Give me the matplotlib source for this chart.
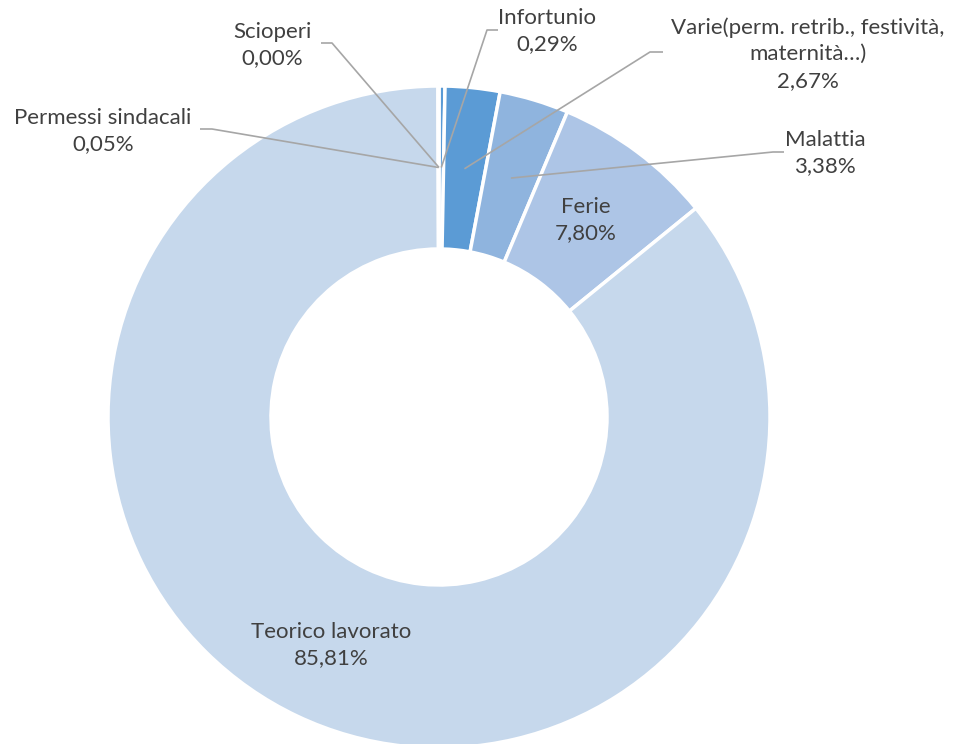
import numpy as np
import matplotlib
matplotlib.use('Agg')
import matplotlib.pyplot as plt

# Dati
categorie = ['Scioperi', 'Infortunio',
             'Varie(perm. retrib., festività,\nmaternità…)',
             'Malattia', 'Ferie', 'Teorico lavorato', 'Permessi sindacali']
valori = [0.00, 0.29, 2.67, 3.38, 7.80, 85.81, 0.05]
colori = ['#5B9BD5', '#5B9BD5', '#5B9BD5', '#8FB4DE', '#ADC5E6', '#C6D8EC', '#C6D8EC']

W, H = 957, 744
fig = plt.figure(figsize=(W / 100, H / 100), dpi=100)
ax = fig.add_axes([0, 0, 1, 1])
ax.set_aspect('equal')

def px(x, y):
    # coordinate in pixel (origine in alto a sinistra) -> coordinate dati
    return x, H - y

cx, cy = px(439, 417)
R, r_in = 331, 168

wedges, _ = ax.pie(valori, colors=colori, startangle=90, counterclock=False,
                   center=(cx, cy), radius=R, frame=True,
                   wedgeprops=dict(width=R - r_in, edgecolor='white', linewidth=2.5))
ax.set_xlim(0, W)
ax.set_ylim(0, H)
ax.axis('off')

etichette = [f"{c}\n{f'{v:.2f}'.replace('.', ',')}%" for c, v in zip(categorie, valori)]

# posizione del testo (pixel) e segmento orizzontale della linea guida
pos_testo = {
    'Scioperi': (272, 45),
    'Infortunio': (547, 31),
    categorie[2]: (808, 54),
    'Malattia': (825, 153),
    'Ferie': (586, 220),
    'Teorico lavorato': (331, 645),
    'Permessi sindacali': (103, 131),
}
guida = {
    'Scioperi': (321, 332, 43),
    'Infortunio': (498, 487, 30),
    categorie[2]: (663, 650, 52),
    'Malattia': (784, 773, 152),
    'Permessi sindacali': (200, 212, 129),
}

r_mid = (R + r_in) / 2
for w, c, lab in zip(wedges, categorie, etichette):
    tx, ty = px(*pos_testo[c])
    ax.text(tx, ty, lab, ha='center', va='center', fontsize=16,
            color='#404040', family='Lato', linespacing=1.42)
    if c in guida:
        a = np.deg2rad((w.theta1 + w.theta2) / 2)
        ex, ey = cx + r_mid * np.cos(a), cy + r_mid * np.sin(a)
        x0, x1, gy = guida[c]
        gy = H - gy
        ax.plot([x0, x1, ex], [gy, gy, ey], color='#A6A6A6', lw=1.2,
                solid_capstyle='butt')

fig.savefig('out.png', dpi=100)
